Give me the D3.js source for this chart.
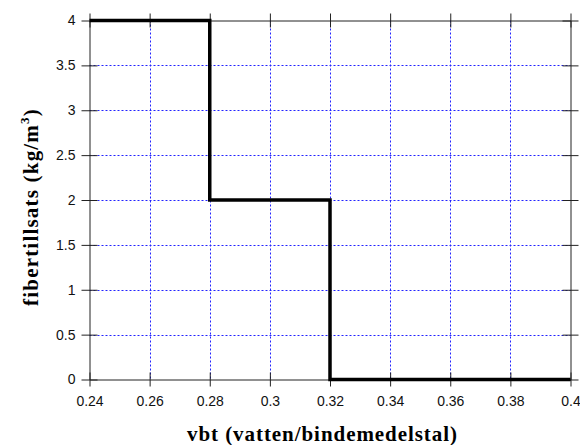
<!DOCTYPE html>
<html><head><meta charset="utf-8">
<script src="https://cdn.jsdelivr.net/npm/d3@7"></script>
<style>body{margin:0;background:#fff}svg{display:block}</style>
</head><body>
<script>
const stepX = [0.24, 0.28, 0.32, 0.40];
const stepY = [4, 2, 0, 0];
const xTicks = [0.24, 0.26, 0.28, 0.30, 0.32, 0.34, 0.36, 0.38, 0.40];
const xTickLabels = ["0.24","0.26","0.28","0.3","0.32","0.34","0.36","0.38","0.4"];
const yTicks = [0, 0.5, 1, 1.5, 2, 2.5, 3, 3.5, 4];
const yTickLabels = ["0","0.5","1","1.5","2","2.5","3","3.5","4"];
const xTitle = "vbt (vatten/bindemedelstal)";

(function () {
const W = 580, H = 445;
const L = 89.5, R = 570.5, T = 20.5, B = 379.5;
const svg = d3.select("body").append("svg").attr("width", W).attr("height", H);
const x = d3.scaleLinear().domain([0.24, 0.40]).range([L, R]);
const y = d3.scaleLinear().domain([0, 4]).range([B, T]);

// grid
const g = svg.append("g").attr("stroke", "#2222ff").attr("stroke-dasharray", "2,2").attr("stroke-width", 1);
xTicks.slice(1, -1).forEach(v => g.append("line").attr("x1", Math.round(x(v)) + 0.5).attr("x2", Math.round(x(v)) + 0.5).attr("y1", T).attr("y2", B));
yTicks.slice(1, -1).forEach(v => g.append("line").attr("y1", Math.round(y(v)) + 0.5).attr("y2", Math.round(y(v)) + 0.5).attr("x1", L).attr("x2", R));

const axStyle = sel => { sel.selectAll("path,line").attr("stroke", "#222"); sel.selectAll("text").attr("font-family", "Liberation Sans, Arial, sans-serif").attr("font-size", 14).attr("fill", "#111"); };
const axB = svg.append("g").attr("transform", `translate(0,${B})`)
  .call(d3.axisBottom(x).tickValues(xTicks).tickFormat((d, i) => xTickLabels[i]).tickSizeInner(7).tickSizeOuter(0).tickPadding(10));
axB.selectAll(".tick line").attr("y1", -7);
axStyle(axB);
const axT = svg.append("g").attr("transform", `translate(0,${T})`)
  .call(d3.axisTop(x).tickValues(xTicks).tickFormat("").tickSizeInner(7).tickSizeOuter(0));
axT.selectAll(".tick line").attr("y1", 7);
axStyle(axT);
const axL = svg.append("g").attr("transform", `translate(${L},0)`)
  .call(d3.axisLeft(y).tickValues(yTicks).tickFormat((d, i) => yTickLabels[i]).tickSizeInner(8).tickSizeOuter(0).tickPadding(6));
axL.selectAll(".tick line").attr("x1", 8);
axStyle(axL);
const axR = svg.append("g").attr("transform", `translate(${R},0)`)
  .call(d3.axisRight(y).tickValues(yTicks).tickFormat("").tickSizeInner(8).tickSizeOuter(0));
axR.selectAll(".tick line").attr("x1", -8);
axStyle(axR);

const data = stepX.map((v, i) => [v, stepY[i]]);
svg.append("path").datum(data)
  .attr("d", d3.line().x(d => x(d[0])).y(d => y(d[1])).curve(d3.curveStepAfter))
  .attr("fill", "none").attr("stroke", "#000").attr("stroke-width", 3.5).attr("stroke-linejoin", "miter");

svg.append("text").attr("x", 322).attr("y", 441).attr("text-anchor", "middle")
  .attr("font-family", "Liberation Serif, Times New Roman, serif").attr("font-weight", "bold").attr("font-size", 21)
  .attr("textLength", 270).attr("lengthAdjust", "spacing").text(xTitle);
const yt = svg.append("text").attr("transform", "translate(38,207) rotate(-90)").attr("text-anchor", "middle")
  .attr("font-family", "Liberation Serif, Times New Roman, serif").attr("font-weight", "bold").attr("font-size", 21)
  .attr("letter-spacing", 1.2);
yt.append("tspan").text("fibertillsats (kg/m");
yt.append("tspan").attr("font-size", 13).attr("dy", -9).text("3");
yt.append("tspan").attr("dy", 9).text(")");
})();
</script>
</body></html>
